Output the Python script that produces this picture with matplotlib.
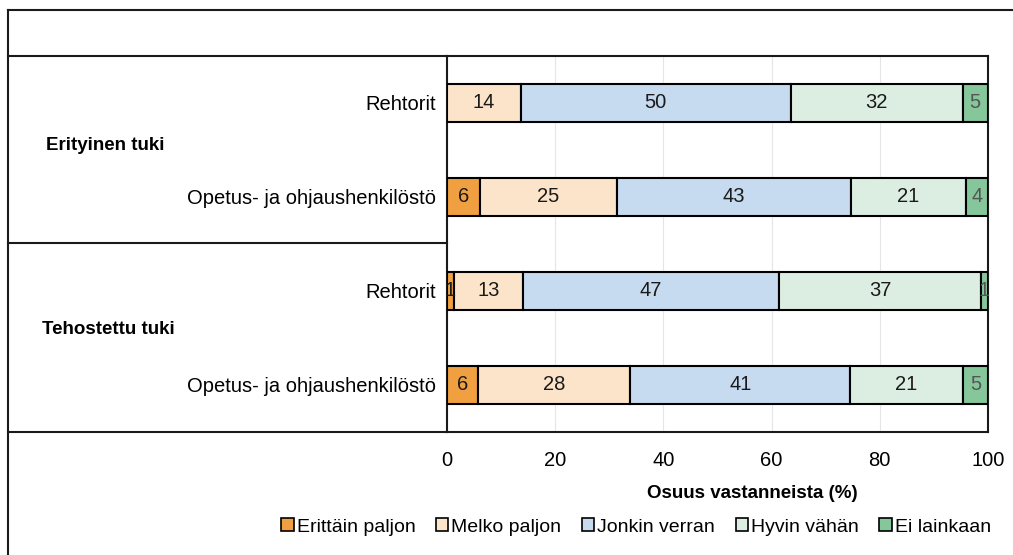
import matplotlib
matplotlib.use('Agg')
import matplotlib.pyplot as plt
from matplotlib.lines import Line2D
from matplotlib.patches import Patch

plt.rcParams['font.family'] = ['Liberation Sans', 'DejaVu Sans']
plt.rcParams['font.size'] = 14.5

# data (shares in %, labels shown rounded)
categories = ['Rehtorit', 'Opetus- ja ohjaushenkilöstö', 'Rehtorit', 'Opetus- ja ohjaushenkilöstö']
groups = ['Erityinen tuki', 'Tehostettu tuki']
series = ['Erittäin paljon', 'Melko paljon', 'Jonkin verran', 'Hyvin vähän', 'Ei lainkaan']
erittain = [0.0, 6.1, 1.3, 5.7]
melko = [13.6, 25.3, 12.7, 28.2]
jonkin = [49.9, 43.3, 47.4, 40.6]
hyvin = [31.8, 21.2, 37.3, 20.9]
ei = [4.7, 4.1, 1.3, 4.6]
values = [erittain, melko, jonkin, hyvin, ei]
colors = ['#F0A040', '#FCE4CA', '#C6DAF0', '#DCEEE1', '#85C79B']
label_colors = ['#1a1a1a', '#1a1a1a', '#1a1a1a', '#1a1a1a', '#555555']

W, H = 1013, 555
fig = plt.figure(figsize=(W / 100, H / 100), dpi=100)
x0, x1, y0, y1 = 447, 988, 56, 432
ax = fig.add_axes([x0 / W, 1 - y1 / H, (x1 - x0) / W, (y1 - y0) / H])

pos = list(range(len(categories)))
left = [0.0] * len(categories)
for vals, col, lc in zip(values, colors, label_colors):
    ax.barh(pos, vals, left=left, height=0.4, color=col, edgecolor='black', linewidth=1.5, zorder=3)
    for i, v in enumerate(vals):
        if v > 0:
            ax.text(left[i] + v / 2, pos[i], f'{round(v)}', ha='center', va='center',
                    color=lc, fontsize=14.5, zorder=4)
    left = [a + b for a, b in zip(left, vals)]

ax.set_xlim(0, 100)
ax.set_ylim(3.5, -0.5)
ax.set_xticks([0, 20, 40, 60, 80, 100])
ax.set_yticks(pos)
ax.set_yticklabels(categories)
ax.tick_params(axis='both', length=0)
ax.tick_params(axis='y', pad=8)
ax.tick_params(axis='x', pad=14)
ax.grid(axis='x', color='#e6e6e6', linewidth=0.8, zorder=0)
for s in ax.spines.values():
    s.set_linewidth(1.5)
    s.set_color('#1a1a1a')

# axis title
fig.text(752 / W, 1 - 493 / H, 'Osuus vastanneista (%)', ha='center', va='center',
         fontweight='bold', fontsize=13.5)

# group labels
fig.text(105 / W, 1 - 146 / H, groups[0], ha='center', va='center', fontweight='bold', fontsize=13.5)
fig.text(108 / W, 1 - 330 / H, groups[1], ha='center', va='center', fontweight='bold', fontsize=13.5)

# table frame lines
def hline(y, xa, xb):
    fig.add_artist(Line2D([xa / W, xb / W], [1 - y / H, 1 - y / H], color='#1a1a1a', linewidth=1.5))

hline(10, 8, W)
hline(56, 8, x0)
hline(243, 8, x0)
hline(432, 8, x0)
fig.add_artist(Line2D([8 / W, 8 / W], [1 - 10 / H, 0], color='#1a1a1a', linewidth=1.5))

# legend
handles = [Patch(facecolor=c, edgecolor='black', linewidth=1.2) for c in colors]
fig.legend(handles, series, loc='center', bbox_to_anchor=(636 / W, 1 - 527 / H), ncol=5,
           frameon=False, handlelength=0.65, handleheight=0.65, handletextpad=0.15,
           columnspacing=1.05, fontsize=14)

fig.savefig('out.png', dpi=100)
